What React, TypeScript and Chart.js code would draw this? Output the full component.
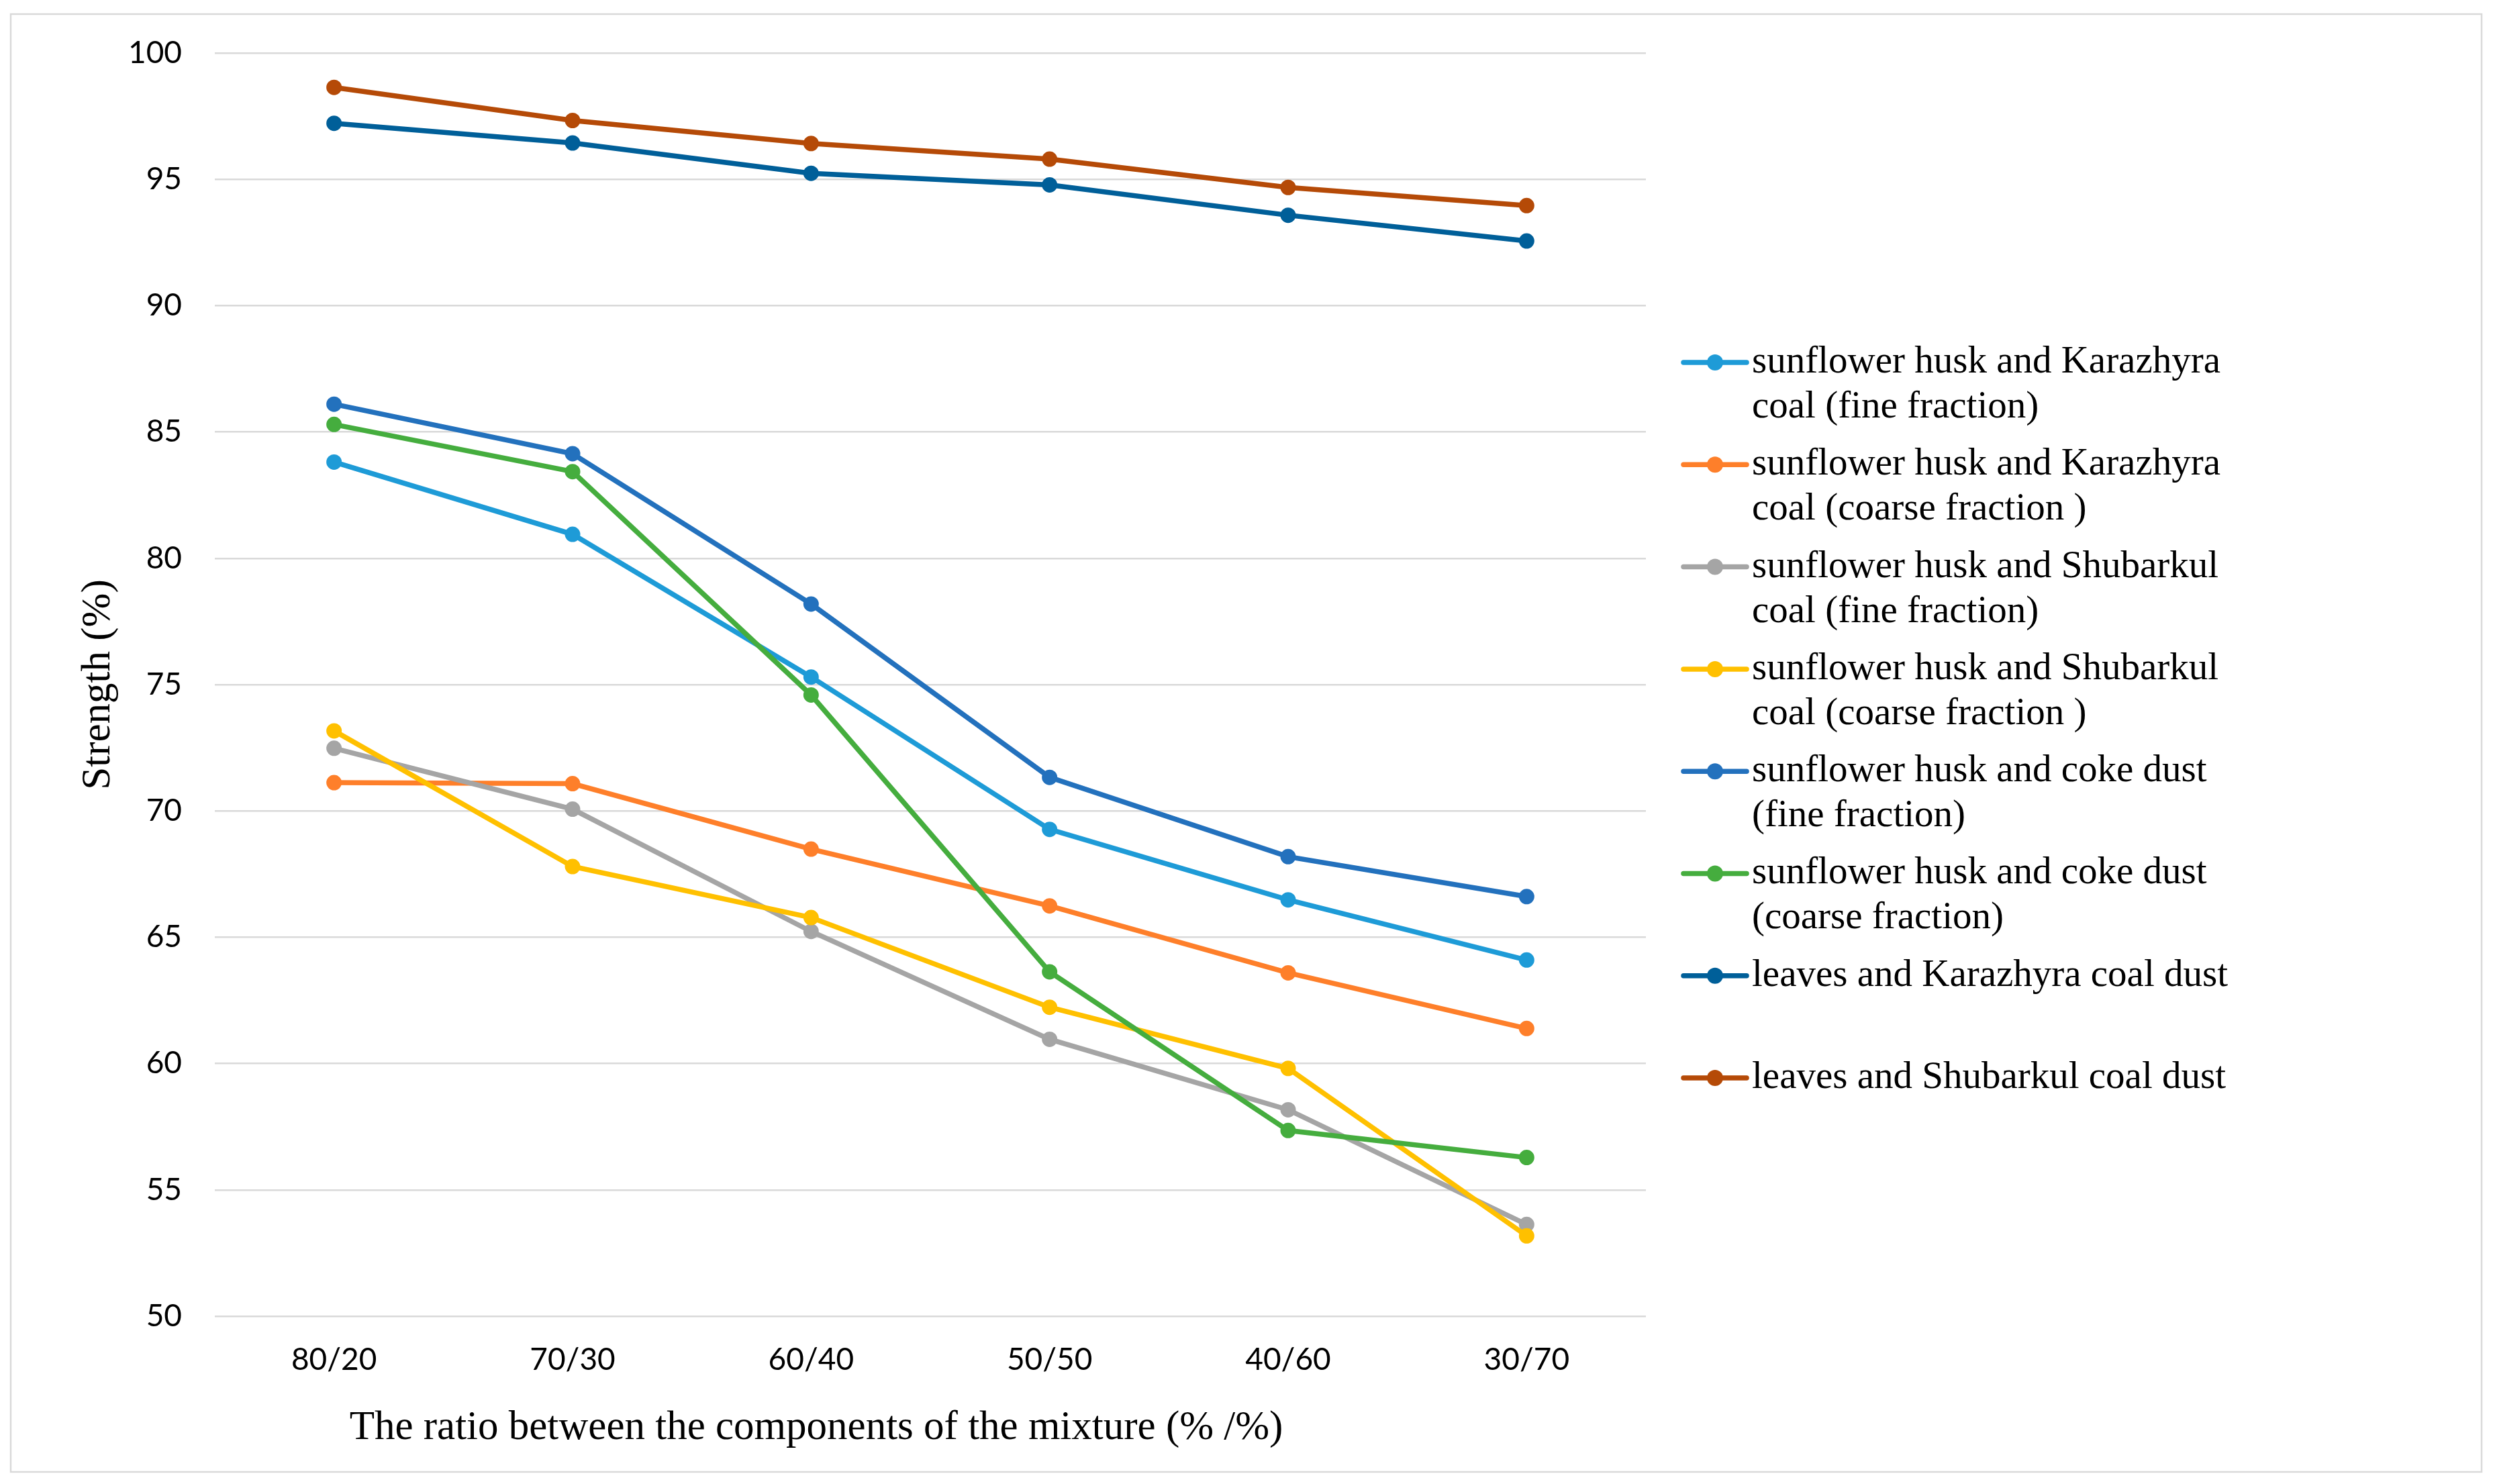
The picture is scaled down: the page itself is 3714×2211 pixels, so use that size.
import React, { useEffect, useRef } from "react";
import { Chart, registerables } from "chart.js";

Chart.register(...registerables);

// ---- data ----
const categories = ["80/20", "70/30", "60/40", "50/50", "40/60", "30/70"];

const seriesNames = [
  "sunflower husk and Karazhyra coal (fine fraction)",
  "sunflower husk and Karazhyra coal (coarse fraction )",
  "sunflower husk and Shubarkul coal (fine fraction)",
  "sunflower husk and Shubarkul coal (coarse fraction )",
  "sunflower husk and coke dust (fine fraction)",
  "sunflower husk and coke dust (coarse fraction)",
  "leaves and Karazhyra coal dust",
  "leaves and Shubarkul coal dust",
];

const legendLines = [
  ["sunflower husk and Karazhyra", "coal (fine fraction)"],
  ["sunflower husk and Karazhyra", "coal (coarse fraction )"],
  ["sunflower husk and Shubarkul", "coal (fine fraction)"],
  ["sunflower husk and Shubarkul", "coal (coarse fraction )"],
  ["sunflower husk and coke dust", "(fine fraction)"],
  ["sunflower husk and coke dust", "(coarse fraction)"],
  ["leaves and Karazhyra coal dust"],
  ["leaves and Shubarkul coal dust"],
];

const karazhyraFine = [83.81, 80.95, 75.3, 69.27, 66.48, 64.1];
const karazhyraCoarse = [71.12, 71.08, 68.49, 66.24, 63.59, 61.39];
const shubarkulFine = [72.48, 70.07, 65.23, 60.96, 58.17, 53.63];
const shubarkulCoarse = [73.17, 67.8, 65.78, 62.23, 59.81, 53.18];
const cokeFine = [86.1, 84.14, 78.19, 71.33, 68.19, 66.61];
const cokeCoarse = [85.3, 83.43, 74.59, 63.63, 57.35, 56.28];
const leavesKarazhyra = [97.22, 96.44, 95.24, 94.78, 93.58, 92.56];
const leavesShubarkul = [98.64, 97.33, 96.42, 95.8, 94.68, 93.96];

const seriesValues = [
  karazhyraFine,
  karazhyraCoarse,
  shubarkulFine,
  shubarkulCoarse,
  cokeFine,
  cokeCoarse,
  leavesKarazhyra,
  leavesShubarkul,
];

const seriesColors = [
  "#1E9BD7",
  "#FE7F2A",
  "#A5A5A5",
  "#FFC000",
  "#2371BD",
  "#45AD3E",
  "#005F99",
  "#B54A07",
];

const yMin = 50;
const yMax = 100;
const yStep = 5;

const xTitle = "The ratio between the components of the mixture (% /%)";
const yTitle = "Strength (%)";

const SERIF = '"Liberation Serif", "Times New Roman", serif';
const SANS = 'Lato, "Open Sans", sans-serif';

const decorPlugin = {
  id: "decor",
  beforeDraw(chart: any) {
    const ctx = chart.ctx;
    ctx.save();
    ctx.fillStyle = "#ffffff";
    ctx.fillRect(0, 0, chart.width, chart.height);
    ctx.strokeStyle = "#d9d9d9";
    ctx.lineWidth = 2.5;
    ctx.strokeRect(16, 21, 3681, 2172);
    ctx.restore();
  },
  afterDraw(chart: any) {
    const ctx = chart.ctx;
    ctx.save();
    ctx.fillStyle = "#000000";
    // x axis title
    ctx.font = `61px ${SERIF}`;
    ctx.textAlign = "center";
    ctx.textBaseline = "middle";
    ctx.fillText(xTitle, 1216, 2128);
    // y axis title
    ctx.save();
    ctx.translate(147, (chart.chartArea.top + chart.chartArea.bottom) / 2);
    ctx.rotate(-Math.PI / 2);
    ctx.fillText(yTitle, 0, 0);
    ctx.restore();

    // legend
    const x0 = 2508;
    const x1 = 2602;
    const textX = 2610;
    const firstY = 540;
    const itemGap = 152.3;
    const lineGap = 67;
    ctx.font = `57px ${SERIF}`;
    ctx.textAlign = "left";
    ctx.textBaseline = "middle";
    chart.data.datasets.forEach((ds: any, i: number) => {
      const y = firstY + i * itemGap;
      ctx.strokeStyle = ds.borderColor;
      ctx.lineWidth = 7.5;
      ctx.lineCap = "round";
      ctx.beginPath();
      ctx.moveTo(x0, y);
      ctx.lineTo(x1, y);
      ctx.stroke();
      ctx.fillStyle = ds.borderColor;
      ctx.beginPath();
      ctx.arc((x0 + x1) / 2, y, 12, 0, Math.PI * 2);
      ctx.fill();
      ctx.fillStyle = "#000000";
      legendLines[i].forEach((t, j) => {
        ctx.fillText(t, textX, y + j * lineGap);
      });
    });
    ctx.restore();
  },
};

export default function App() {
  const canvasRef = useRef<HTMLCanvasElement | null>(null);

  useEffect(() => {
    if (!canvasRef.current) return;
    const chart = new Chart(canvasRef.current, {
      type: "line",
      data: {
        labels: categories,
        datasets: seriesValues.map((vals, i) => ({
          label: seriesNames[i],
          data: vals,
          borderColor: seriesColors[i],
          backgroundColor: seriesColors[i],
          pointBackgroundColor: seriesColors[i],
          pointBorderColor: seriesColors[i],
          borderWidth: 7.5,
          pointRadius: 10.5,
          pointBorderWidth: 2,
          tension: 0,
          fill: false,
          order: seriesValues.length - i,
        })),
      },
      options: {
        animation: false,
        responsive: true,
        maintainAspectRatio: false,
        layout: { padding: { left: 0, right: 1262, top: 79, bottom: 0 } },
        plugins: {
          legend: { display: false },
          tooltip: { enabled: false },
          title: { display: false },
        },
        scales: {
          x: {
            type: "category",
            offset: true,
            grid: { display: false, drawTicks: false },
            border: { display: false },
            ticks: {
              color: "#000000",
              font: { family: SANS, size: 46 },
              padding: 38,
              maxRotation: 0,
              autoSkip: false,
            },
            afterFit: (s: any) => {
              s.height = 250;
            },
          },
          y: {
            min: yMin,
            max: yMax,
            grid: { color: "#d9d9d9", lineWidth: 2.5, drawTicks: false },
            border: { display: false },
            ticks: {
              stepSize: yStep,
              color: "#000000",
              font: { family: SANS, size: 46 },
              padding: 49,
            },
            afterFit: (s: any) => {
              s.width = 320;
            },
          },
        },
      } as any,
      plugins: [decorPlugin],
    });
    return () => chart.destroy();
  }, []);

  return (
    <div
      style={{
        position: "fixed",
        left: 0,
        top: 0,
        width: "100vw",
        height: "100vh",
        background: "#ffffff",
      }}
    >
      <canvas ref={canvasRef} />
    </div>
  );
}
